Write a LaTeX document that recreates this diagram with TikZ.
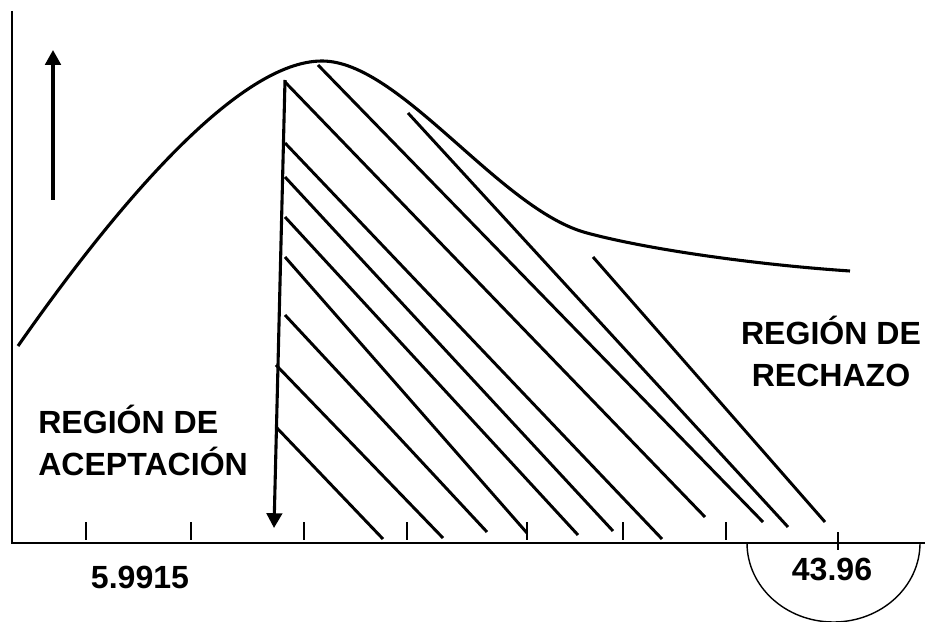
\documentclass[tikz,border=0pt]{standalone}
\usepackage{fontspec}
\setmainfont{Liberation Sans}
\usetikzlibrary{arrows.meta}

\begin{document}
\begin{tikzpicture}[x=0.025cm,y=-0.025cm,
    lbl/.style={font=\bfseries\fontsize{22.8}{29.8}\selectfont, inner sep=0pt},
    hatch/.style={line width=2.1pt},
    tick/.style={line width=2pt},
    tip/.style={-{Triangle[width=11pt,length=10.5pt]}, line width=2.2pt}]
  \useasboundingbox (0,0) rectangle (925,622);
  % axes and ticks
  \coordinate (o) at (12,543);
  \coordinate (top) at (12,11);
  \coordinate (end) at (925,543);
  \draw[line width=1.5pt] (top) -- (o) -- (end);
  \foreach \x in {86,191,304,407,527,623,726}
    \draw[tick] (\x,522) -- (\x,540);
  \draw[tick] (838,532) -- (838,550);
  \draw[line width=1pt] (747,543) arc[start angle=180, end angle=0, x radius=86.5, y radius=79];

  % curve
  \draw[line width=2.2pt] (18,346) .. controls (120,200) and (240,61) .. (322,61)
    .. controls (400,61) and (500,210) .. (587,233)
    .. controls (650,250) and (760,265) .. (850,271);

  % hatching
  \foreach \xa/\ya/\xb/\yb in {276/427/383/539, 276/365/443/538, 285/315/487/532,
      285/257/527/533, 285/217/578/535, 285/177/613/531, 285/143/662/539,
      285/82/705/517, 318/65/763/522, 408/113/788/527, 593/257/825/522}
    \draw[hatch] (\xa,\ya) -- (\xb,\yb);

  % arrows
  \coordinate (u1) at (53,200);
  \coordinate (u2) at (53,50);
  \coordinate (d1) at (285,80);
  \coordinate (d2) at (274,528);
  \draw[tip] (u1) -- (u2);
  \draw[tip] (d1) -- (d2);

  % labels
  \node[lbl, anchor=west, align=left] (acep) at (38,440) {REGIÓN DE\\ACEPTACIÓN};
  \node[lbl, align=center] (rech) at (831,351) {REGIÓN DE\\RECHAZO};
  \node[lbl] (v1) at (140,577) {5.9915};
  \node[lbl] (v2) at (832,569) {43.96};
\end{tikzpicture}
\end{document}
